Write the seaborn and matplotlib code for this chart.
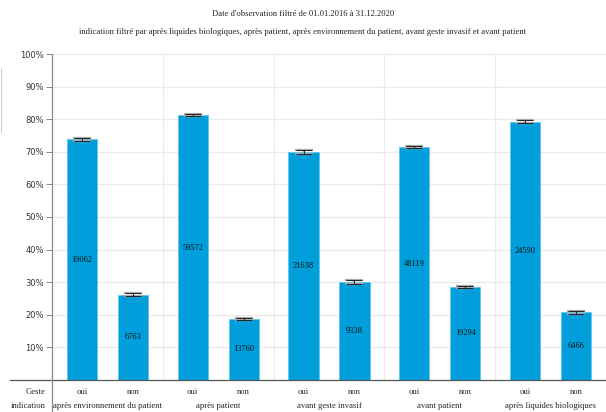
import pandas as pd
import matplotlib
matplotlib.use("Agg")
import matplotlib.pyplot as plt
import seaborn as sns

# data
indications = ["après environnement du patient", "après patient", "avant geste invasif",
               "avant patient", "après liquides biologiques"]
gestes = ["oui", "non"]
pct_oui = [73.8, 81.2, 69.9, 71.4, 79.2]
pct_non = [26.2, 18.8, 30.1, 28.6, 20.8]
n_oui = [19062, 59572, 21638, 48119, 24590]
n_non = [6763, 13760, 9338, 19294, 6466]
err_oui = [0.5, 0.3, 0.5, 0.35, 0.45]
err_non = [0.5, 0.3, 0.5, 0.35, 0.45]

rows = []
for i, ind in enumerate(indications):
    rows.append({"indication": ind, "Geste": "oui", "pct": pct_oui[i], "n": n_oui[i], "err": err_oui[i]})
    rows.append({"indication": ind, "Geste": "non", "pct": pct_non[i], "n": n_non[i], "err": err_non[i]})
df = pd.DataFrame(rows)

sns.set_theme(style="white")
serif = ["Liberation Serif", "DejaVu Serif"]
BLUE = "#009fdb"

fig = plt.figure(figsize=(6.06, 4.12), dpi=100)
ax = fig.add_axes([52 / 606, 32 / 412, 1 - 52 / 606, (380 - 54) / 412])

sns.barplot(data=df, x="indication", y="pct", hue="Geste", order=indications, hue_order=gestes,
            palette=[BLUE, BLUE], saturation=1, width=0.92, gap=0.41, errorbar=None, legend=False,
            edgecolor="#5cc8f2", linewidth=0.6, ax=ax)

ax.set_ylim(0, 100)
ax.set_xlim(-0.5, len(indications) - 0.5)

# bar patches in hue order: all "oui" then all "non"
bars = ax.patches[:2 * len(indications)]
centers = []
for k, b in enumerate(bars):
    hue_i, ind_i = divmod(k, len(indications))
    cx = b.get_x() + b.get_width() / 2
    h = b.get_height()
    lab = n_oui[ind_i] if hue_i == 0 else n_non[ind_i]
    err = err_oui[ind_i] if hue_i == 0 else err_non[ind_i]
    ax.errorbar(cx, h, yerr=err, fmt="none", ecolor="#aaaaaa", elinewidth=1.6, capsize=6.2, capthick=1.6, zorder=4)
    ax.errorbar(cx, h, yerr=err, fmt="none", ecolor="#222222", elinewidth=0.7, capsize=5.8, capthick=0.7, zorder=5)
    ax.text(cx, h / 2, str(lab), ha="center", va="center", fontsize=6, family=serif, color="#111111")
    centers.append((cx, gestes[hue_i]))

# grid
for v in range(10, 101, 10):
    ax.axhline(v, color="#e9e9e9", lw=0.9, zorder=0)
for g in range(1, len(indications)):
    ax.axvline(g - 0.5, color="#ececec", lw=0.9, zorder=0)

ax.set_yticks(range(10, 101, 10))
ax.set_yticklabels([f"{v}%" for v in range(10, 101, 10)], fontsize=6, color="#333333")
ax.tick_params(axis="y", left=True, length=4, width=0.7, color="#888888", pad=2)
ax.set_xticks([])
ax.set_xlabel("")
ax.set_ylabel("")
for s in ["top", "right", "bottom"]:
    ax.spines[s].set_visible(False)
ax.spines["left"].set_color("#8a8a8a")
ax.spines["left"].set_linewidth(0.9)

# table under the axis
x0 = ax.transAxes.inverted().transform(fig.transFigure.transform((10 / 606, 0)))[0]
ax.plot([x0, 1], [0, 0], transform=ax.transAxes, color="#555555", lw=0.9, clip_on=False)
ax.plot([0, 0], [0, -0.12], transform=ax.transAxes, color="#8a8a8a", lw=0.9, clip_on=False)

ty1 = -12 / 326 * 100
ty2 = -26 / 326 * 100
for cx, g in centers:
    ax.text(cx, ty1, g, ha="center", va="center", fontsize=6.2, family=serif, clip_on=False)
for i, ind in enumerate(indications):
    ax.text(i, ty2, ind, ha="center", va="center", fontsize=6.2, family=serif, clip_on=False)
fig.text(46 / 606, 1 - 392 / 412, "Geste", ha="right", va="center", fontsize=6.2, family=serif)
fig.text(46 / 606, 1 - 406 / 412, "indication", ha="right", va="center", fontsize=6.2, family=serif)

# faint box at the far left (cut-off legend)
fig.add_artist(plt.Line2D([1 / 606, 1 / 606], [1 - 68 / 412, 1 - 132 / 412], color="#d0d0d0", lw=0.8))

fig.text(0.5, 1 - 14 / 412, "Date d'observation filtré de 01.01.2016 à 31.12.2020",
         ha="center", va="center", fontsize=6.2, family=serif)
fig.text(0.5, 1 - 32 / 412,
         "indication filtré par après liquides biologiques, après patient, après environnement du patient, avant geste invasif et avant patient",
         ha="center", va="center", fontsize=6.2, family=serif)

fig.savefig("out.png", dpi=100)
